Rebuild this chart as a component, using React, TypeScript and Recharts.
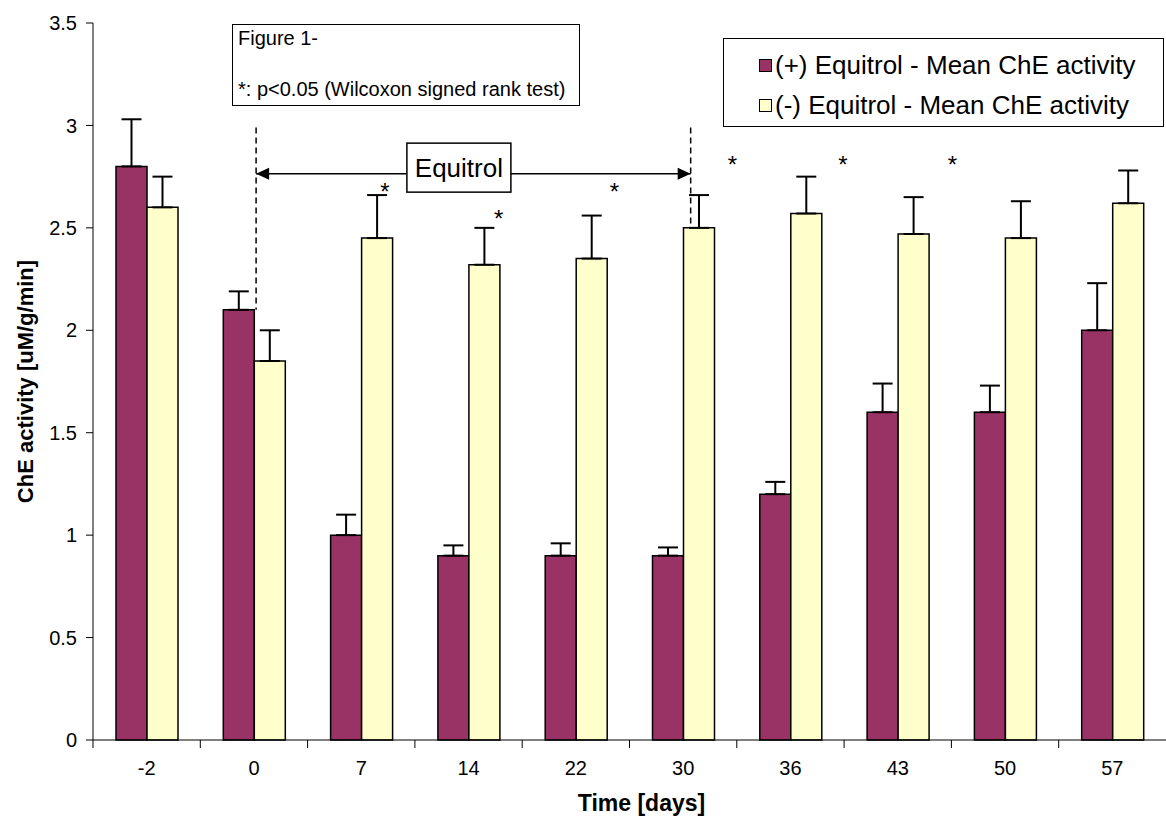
import React from 'react';
import { BarChart, Bar, XAxis, YAxis, ErrorBar, ReferenceLine, ReferenceDot, Legend } from 'recharts';

const FONT = '"Liberation Sans", Arial, Helvetica, sans-serif';

// ---- data ----
const days = ['-2', '0', '7', '14', '22', '30', '36', '43', '50', '57'];
const plusMean = [2.8, 2.1, 1.0, 0.9, 0.9, 0.9, 1.2, 1.6, 1.6, 2.0];
const plusErr = [0.23, 0.09, 0.1, 0.05, 0.06, 0.04, 0.06, 0.14, 0.13, 0.23];
const minusMean = [2.6, 1.85, 2.45, 2.32, 2.35, 2.5, 2.57, 2.47, 2.45, 2.62];
const minusErr = [0.15, 0.15, 0.21, 0.18, 0.21, 0.16, 0.18, 0.18, 0.18, 0.16];
const yTicks = [0, 0.5, 1, 1.5, 2, 2.5, 3, 3.5];
const seriesNames = ['(+) Equitrol - Mean ChE activity', '(-) Equitrol - Mean ChE activity'];

// significance stars (x in category units, y in data units)
const starX = [2.72, 3.78, 4.86, 5.96, 6.99, 8.01];
const starY = [2.7, 2.57, 2.7, 2.83, 2.83, 2.83];

// Equitrol period annotation
const periodStart = 1.52;
const periodEnd = 5.57;
const periodArrowY = 2.764;
const dashTop = 2.99;
const dashBottoms = [2.1, 2.5];
const periodLabel = 'Equitrol';
const periodLabelX = 3.41;
const periodLabelY = 2.794;

const noteLines = ['Figure 1-', '*: p<0.05 (Wilcoxon signed rank test)'];

const data = days.map((d, i) => ({
  day: d,
  pos: i + 0.5,
  plus: plusMean[i],
  plusErr: [0, plusErr[i]],
  minus: minusMean[i],
  minusErr: [0, minusErr[i]],
}));

const MAROON = '#993366';
const CREAM = '#FFFFCC';
const TICK_MARGIN = 21;

const DayTick = (props: any) => {
  const { x, y, payload } = props;
  const half = payload && typeof payload.offset === 'number' ? payload.offset : 0;
  const axisY = y - TICK_MARGIN;
  return (
    <g>
      <line x1={x - half} x2={x - half} y1={axisY} y2={axisY + 8} stroke="#000" strokeWidth={1} />
      <text x={x} y={axisY + 35} textAnchor="middle" fontSize={20} fontFamily={FONT} fill="#000">
        {payload.value}
      </text>
    </g>
  );
};

const ArrowShape = (p: any) => {
  const { x1, y1, x2, y2 } = p;
  const l = 13;
  const h = 6;
  return (
    <g>
      <line x1={x1} y1={y1} x2={x2} y2={y2} stroke="#000" strokeWidth={1.5} />
      <polygon points={`${x1},${y1} ${x1 + l},${y1 - h} ${x1 + l},${y1 + h}`} fill="#000" />
      <polygon points={`${x2},${y2} ${x2 - l},${y2 - h} ${x2 - l},${y2 + h}`} fill="#000" />
    </g>
  );
};

const StarShape = (p: any) => (
  <text x={p.cx} y={p.cy + 13} textAnchor="middle" fontSize={24} fontFamily={FONT} fill="#000">
    *
  </text>
);

const PeriodBox = (p: any) => (
  <g>
    <rect x={p.cx - 52} y={p.cy - 24.5} width={104} height={49} fill="#fff" stroke="#000" strokeWidth={1.5} />
    <text x={p.cx} y={p.cy + 9} textAnchor="middle" fontSize={26} fontFamily={FONT} fill="#000">
      {periodLabel}
    </text>
  </g>
);

const LegendBox = (props: any) => {
  const payload = props.payload || [];
  return (
    <div
      style={{
        position: 'relative',
        width: 441,
        height: 89,
        boxSizing: 'border-box',
        border: '1.5px solid #000',
        background: '#fff',
        fontFamily: FONT,
      }}
    >
      {payload.map((item: any, i: number) => (
        <div
          key={i}
          style={{
            position: 'absolute',
            left: 35,
            top: 12 + i * 40,
            height: 28,
            display: 'flex',
            alignItems: 'center',
            whiteSpace: 'nowrap',
          }}
        >
          <span
            style={{
              display: 'inline-block',
              width: 11,
              height: 11,
              background: item.color,
              border: '1px solid #000',
              marginRight: 3,
            }}
          />
          <span style={{ fontSize: 26, color: '#000', lineHeight: '28px' }}>{item.value}</span>
        </div>
      ))}
    </div>
  );
};

const YLabel = (props: any) => {
  const vb = props.viewBox || { x: 0, y: 0, width: 0, height: 0 };
  const cx = 25;
  const cy = vb.y + vb.height / 2;
  return (
    <text
      x={cx}
      y={cy}
      transform={`rotate(-90, ${cx}, ${cy})`}
      textAnchor="middle"
      dominantBaseline="central"
      fontSize={22}
      fontWeight="bold"
      fontFamily={FONT}
      fill="#000"
    >
      ChE activity [uM/g/min]
    </text>
  );
};

const XLabel = (props: any) => {
  const vb = props.viewBox || { x: 0, y: 0, width: 0, height: 0 };
  return (
    <text
      x={vb.x + vb.width / 2 + 12}
      y={vb.y + 71}
      textAnchor="middle"
      fontSize={23}
      fontWeight="bold"
      fontFamily={FONT}
      fill="#000"
    >
      Time [days]
    </text>
  );
};

export default function App() {
  return (
    <div style={{ position: 'absolute', left: 0, top: 0, width: 1166, height: 818, background: '#fff' }}>
      <BarChart
        width={1166}
        height={818}
        data={data}
        margin={{ top: 23, right: 0, bottom: 0, left: 0 }}
        barGap={0}
        barSize={31}
      >
        <XAxis
          dataKey="day"
          xAxisId="cat"
          height={78}
          tickLine={false}
          tickSize={0}
          tickMargin={TICK_MARGIN}
          axisLine={{ stroke: '#000', strokeWidth: 1 }}
          tick={<DayTick />}
          interval={0}
          label={<XLabel />}
        />
        <XAxis xAxisId="num" dataKey="pos" type="number" domain={[0, 10]} hide allowDataOverflow />
        <YAxis
          width={93}
          domain={[0, 3.5]}
          ticks={yTicks}
          interval={0}
          tickSize={7}
          tickMargin={9}
          axisLine={{ stroke: '#000', strokeWidth: 1 }}
          tickLine={{ stroke: '#000', strokeWidth: 1 }}
          tick={{ fontSize: 20, fontFamily: FONT, fill: '#000' }}
          label={<YLabel />}
        />
        <Legend
          layout="vertical"
          align="center"
          verticalAlign="middle"
          wrapperStyle={{ left: 723, top: 38, width: 441, height: 89 }}
          content={<LegendBox />}
        />
        <Bar
          xAxisId="cat"
          dataKey="plus"
          name={seriesNames[0]}
          fill={MAROON}
          stroke="#000"
          strokeWidth={1.5}
          isAnimationActive={false}
        >
          <ErrorBar dataKey="plusErr" width={10} stroke="#000" strokeWidth={2} direction="y" />
        </Bar>
        <Bar
          xAxisId="cat"
          dataKey="minus"
          name={seriesNames[1]}
          fill={CREAM}
          stroke="#000"
          strokeWidth={1.5}
          isAnimationActive={false}
        >
          <ErrorBar dataKey="minusErr" width={10} stroke="#000" strokeWidth={2} direction="y" />
        </Bar>
        <ReferenceLine
          xAxisId="num"
          segment={[{ x: periodStart, y: dashTop }, { x: periodStart, y: dashBottoms[0] }]}
          stroke="#000"
          strokeWidth={1.5}
          strokeDasharray="6 4"
        />
        <ReferenceLine
          xAxisId="num"
          segment={[{ x: periodEnd, y: dashTop }, { x: periodEnd, y: dashBottoms[1] }]}
          stroke="#000"
          strokeWidth={1.5}
          strokeDasharray="6 4"
        />
        <ReferenceLine
          xAxisId="num"
          segment={[{ x: periodStart, y: periodArrowY }, { x: periodEnd, y: periodArrowY }]}
          shape={<ArrowShape />}
        />
        <ReferenceDot xAxisId="num" x={periodLabelX} y={periodLabelY} r={1} shape={<PeriodBox />} />
        {starX.map((sx, i) => (
          <ReferenceDot key={i} xAxisId="num" x={sx} y={starY[i]} r={1} shape={<StarShape />} />
        ))}
      </BarChart>
      <div
        style={{
          position: 'absolute',
          left: 232,
          top: 24,
          width: 348,
          height: 82,
          boxSizing: 'border-box',
          border: '1.5px solid #000',
          background: '#fff',
          fontFamily: FONT,
          fontSize: 20,
          color: '#000',
        }}
      >
        <div style={{ position: 'absolute', left: 5, top: 2, whiteSpace: 'nowrap', lineHeight: '22px' }}>{noteLines[0]}</div>
        <div style={{ position: 'absolute', left: 5, top: 53, whiteSpace: 'nowrap', lineHeight: '22px' }}>{noteLines[1]}</div>
      </div>
    </div>
  );
}
